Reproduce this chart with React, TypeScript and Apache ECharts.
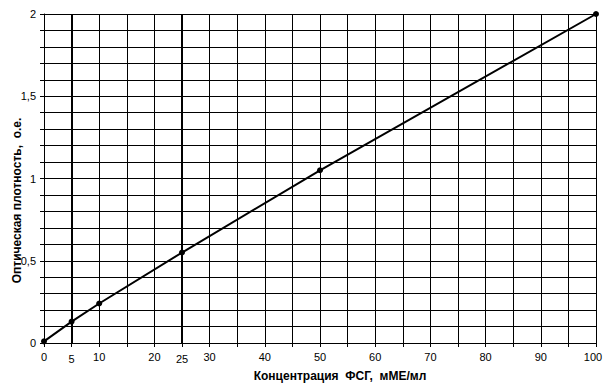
import React, { useEffect, useRef } from "react";
import * as echarts from "echarts";

const concentrations = [0, 5, 10, 25, 50, 100];
const densities = [0.01, 0.13, 0.24, 0.55, 1.05, 2.0];
const standardLines = [5, 25];
const xLabelValues = [0, 5, 10, 20, 25, 30, 40, 50, 60, 70, 80, 90, 100];
const xTitle = "Концентрация  ФСГ,  мМЕ/мл";
const yTitle = "Оптическая плотность,  о.е.";

export default function App() {
  const ref = useRef<HTMLDivElement>(null);
  useEffect(() => {
    if (!ref.current) return;
    const chart = echarts.init(ref.current, null, { renderer: "svg" });
    const font = "'Liberation Sans', Arial, sans-serif";
    chart.setOption({
      animation: false,
      backgroundColor: "#ffffff",
      grid: { left: 44, right: 7, top: 14, bottom: 42, containLabel: false, outerBoundsMode: "none" },
      xAxis: {
        type: "value",
        min: 0,
        max: 100,
        interval: 5,
        name: xTitle,
        nameLocation: "middle",
        nameGap: 27,
        nameMoveOverlap: false,
        nameTextStyle: { fontFamily: font, fontSize: 12, fontWeight: "bold", color: "#000", padding: [0, 0, 0, 40] },
        axisLine: { show: true, lineStyle: { color: "#000", width: 1 } },
        axisTick: { show: true, length: 4, lineStyle: { color: "#000" } },
        splitLine: { show: true, lineStyle: { color: "#000", width: 1 } },
        axisLabel: {
          fontFamily: font,
          fontSize: 11,
          color: "#000",
          margin: 8,
          formatter: (v: number) => {
            if (!xLabelValues.includes(v)) return "";
            if (standardLines.includes(v)) return "{low|" + v + "}";
            if (v === 100) return "{last|" + v + "}";
            return String(v);
          },
          rich: {
            low: { fontFamily: font, fontSize: 11, color: "#000", padding: [2, 0, 0, 0] },
            last: { fontFamily: font, fontSize: 11, color: "#000", padding: [0, 6, 0, 0] },
          },
        },
      },
      yAxis: {
        type: "value",
        min: 0,
        max: 2,
        interval: 0.1,
        name: yTitle,
        nameLocation: "middle",
        nameGap: 21,
        nameMoveOverlap: false,
        nameRotate: 90,
        nameTextStyle: { fontFamily: font, fontSize: 12, fontWeight: "bold", color: "#000", padding: [0, 44, 0, 0] },
        axisLine: { show: true, lineStyle: { color: "#000", width: 1 } },
        axisTick: { show: true, length: 4, lineStyle: { color: "#000" } },
        splitLine: { show: true, lineStyle: { color: "#000", width: 1 } },
        axisLabel: {
          fontFamily: font,
          fontSize: 11,
          color: "#000",
          margin: 8,
          formatter: (v: number) => {
            const t = Math.round(v * 10);
            if (t % 5 !== 0) return "";
            return String(t / 10).replace(".", ",");
          },
        },
      },
      series: [
        {
          type: "line",
          data: concentrations.map((c, i) => [c, densities[i]]),
          symbol: "circle",
          symbolSize: 6,
          itemStyle: { color: "#000" },
          lineStyle: { color: "#000", width: 2 },
          markLine: {
            silent: true,
            symbol: "none",
            label: { show: false },
            lineStyle: { color: "#000", width: 2, type: "solid" },
            data: standardLines.map((x) => ({ xAxis: x })),
          },
        },
      ],
    });
    return () => chart.dispose();
  }, []);
  return <div ref={ref} style={{ position: "fixed", left: 0, top: 0, width: 603, height: 385, background: "#fff" }} />;
}
